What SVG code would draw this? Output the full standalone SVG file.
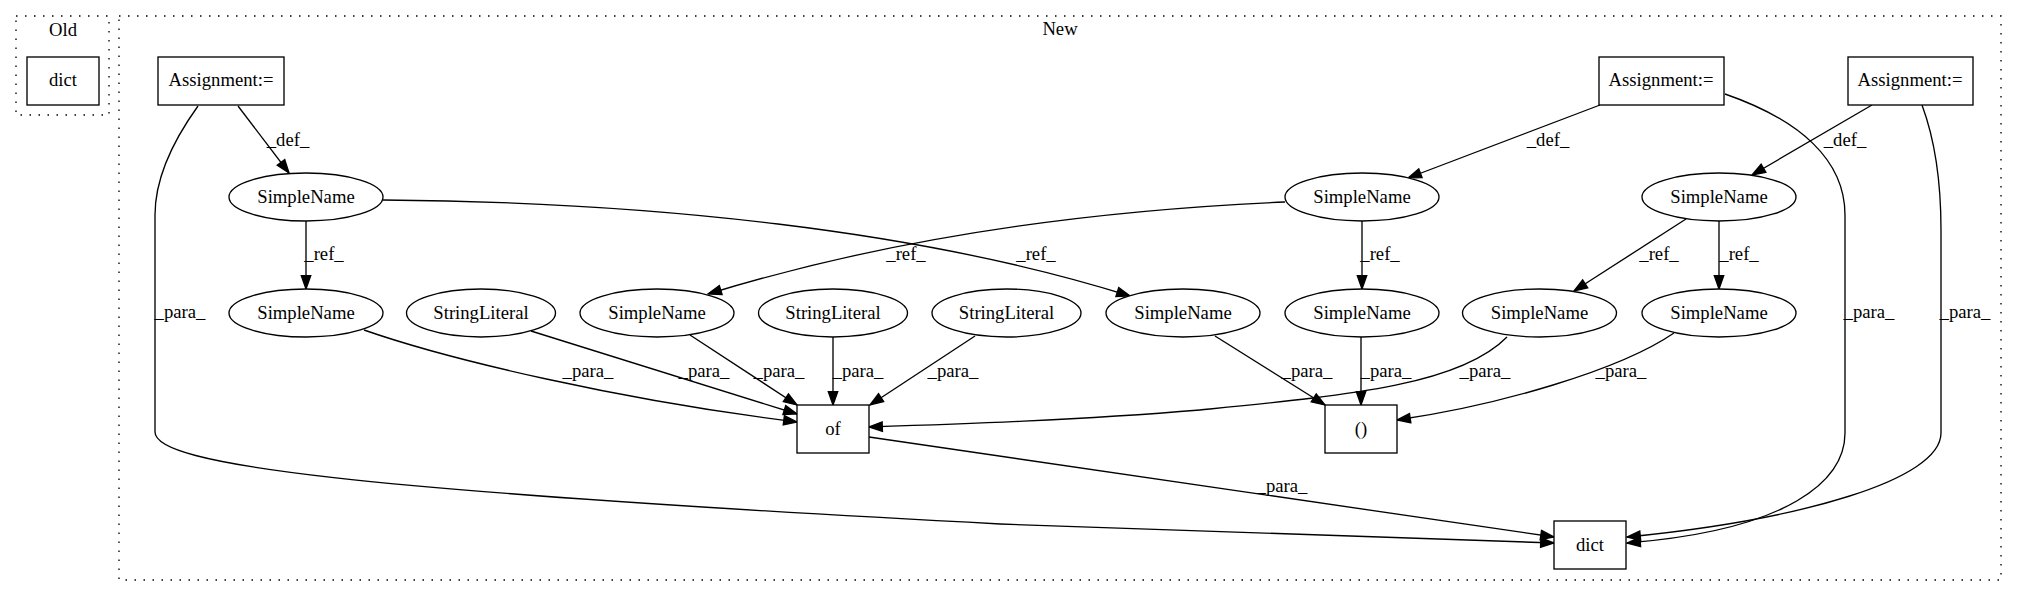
<svg xmlns="http://www.w3.org/2000/svg" width="2017" height="596" viewBox="0 0 2017 596">
<style>
text{font-family:"Liberation Serif","Times New Roman",serif;font-size:18.67px;fill:#000;text-anchor:middle}
.n{fill:#fff;stroke:#000;stroke-width:1.33}
.c{fill:none;stroke:#000;stroke-width:1.33;stroke-dasharray:1.5,7.5}
.e{fill:none;stroke:#000;stroke-width:1.33;marker-end:url(#arr)}
.plain{fill:none;stroke:#000;stroke-width:1.33}
</style>
<defs>
<marker id="arr" markerUnits="userSpaceOnUse" markerWidth="16" markerHeight="12" viewBox="-1 -1 16 12" refX="13.3" refY="5" orient="auto" overflow="visible">
<path d="M0,0.3 L13.3,5 L0,9.7 z" fill="#000" stroke="#000" stroke-width="1.33"/>
</marker>
</defs>
<rect width="2017" height="596" fill="#fff"/>
<g id="cluster_old">
<rect class="c" x="16" y="16" width="93" height="99"/>
<text x="63" y="36">Old</text>
</g>
<g id="cluster_new">
<rect class="c" x="119" y="16" width="1882" height="564"/>
<text x="1060" y="35">New</text>
</g>
<g id="old_dict"><rect class="n" x="27" y="57" width="72" height="48"/><text x="63" y="86">dict</text></g>

<g id="connectors">
<path class="e" d="M238,106 L289,173"/>
<path class="e" d="M198,106 C170,145 155,180 155,215 L155,432 C155,465 350,490 1000,524 C1200,531 1400,538 1554,543"/>
<path class="e" d="M1600,105 L1408,178"/>
<path class="e" d="M1725,94 C1800,120 1845,160 1845,215 L1845,433 C1845,480 1790,530 1627,543"/>
<path class="e" d="M1872,105 L1752,175"/>
<path class="e" d="M1922,105 C1935,140 1941,180 1941,230 L1941,433 C1941,480 1800,520 1627,537"/>
<path class="e" d="M306,221 L306,289"/>
<path class="e" d="M383,200 C650,202 920,230 1130,296"/>
<path class="e" d="M1285,202 C1100,210 900,235 708,294"/>
<path class="e" d="M1362,221 L1362,289"/>
<path class="e" d="M1686,219 L1574,291"/>
<path class="e" d="M1719,221 L1719,289"/>
<path class="e" d="M364,330 C450,360 620,400 797,422"/>
<path class="e" d="M531,331 L797,414"/>
<path class="e" d="M690,335 L797,405"/>
<path class="e" d="M833,337 L833,405"/>
<path class="e" d="M975,336 L870,405"/>
<path class="e" d="M1507,337 C1460,385 1350,395 1200,410 C1080,420 960,424 869,427"/>
<path class="e" d="M1215,336 L1325,405"/>
<path class="e" d="M1361,337 L1361,405"/>
<path class="e" d="M1674,333 C1620,370 1500,405 1397,420"/>
<path class="e" d="M869,437 L1554,537"/>
<text x="288" y="146">_def_</text>
<text x="1548" y="146">_def_</text>
<text x="1845" y="146">_def_</text>
<text x="180" y="318">_para_</text>
<text x="1869" y="318">_para_</text>
<text x="1965" y="318">_para_</text>
<text x="324" y="260">_ref_</text>
<text x="1036" y="260">_ref_</text>
<text x="906" y="260">_ref_</text>
<text x="1380" y="260">_ref_</text>
<text x="1659" y="260">_ref_</text>
<text x="1739" y="260">_ref_</text>
<text x="588" y="377">_para_</text>
<text x="704" y="377">_para_</text>
<text x="779" y="377">_para_</text>
<text x="858" y="377">_para_</text>
<text x="953" y="377">_para_</text>
<text x="1307" y="377">_para_</text>
<text x="1386" y="377">_para_</text>
<text x="1485" y="377">_para_</text>
<text x="1621" y="377">_para_</text>
<text x="1282" y="492">_para_</text>
</g>

<g id="A1"><rect class="n" x="158" y="57" width="126" height="48"/><text x="221" y="86">Assignment:=</text></g>
<g id="A2"><rect class="n" x="1599" y="57" width="125" height="48"/><text x="1661" y="86">Assignment:=</text></g>
<g id="A3"><rect class="n" x="1848" y="57" width="125" height="48"/><text x="1910" y="86">Assignment:=</text></g>

<g id="S1"><ellipse class="n" cx="306" cy="197" rx="77" ry="24"/><text x="306" y="202.5">SimpleName</text></g>
<g id="S2"><ellipse class="n" cx="1362" cy="197" rx="77" ry="24"/><text x="1362" y="202.5">SimpleName</text></g>
<g id="S3"><ellipse class="n" cx="1719" cy="197" rx="77" ry="24"/><text x="1719" y="202.5">SimpleName</text></g>

<g id="S4"><ellipse class="n" cx="306" cy="313" rx="77" ry="24"/><text x="306" y="318.5">SimpleName</text></g>
<g id="L1"><ellipse class="n" cx="481" cy="313" rx="74.5" ry="24"/><text x="481" y="318.5">StringLiteral</text></g>
<g id="S5"><ellipse class="n" cx="657" cy="313" rx="77" ry="24"/><text x="657" y="318.5">SimpleName</text></g>
<g id="L2"><ellipse class="n" cx="833" cy="313" rx="74.5" ry="24"/><text x="833" y="318.5">StringLiteral</text></g>
<g id="L3"><ellipse class="n" cx="1006.5" cy="313" rx="74.5" ry="24"/><text x="1006.5" y="318.5">StringLiteral</text></g>
<g id="S6"><ellipse class="n" cx="1183" cy="313" rx="77" ry="24"/><text x="1183" y="318.5">SimpleName</text></g>
<g id="S7"><ellipse class="n" cx="1362" cy="313" rx="77" ry="24"/><text x="1362" y="318.5">SimpleName</text></g>
<g id="S8"><ellipse class="n" cx="1539.5" cy="313" rx="77" ry="24"/><text x="1539.5" y="318.5">SimpleName</text></g>
<g id="S9"><ellipse class="n" cx="1719" cy="313" rx="77" ry="24"/><text x="1719" y="318.5">SimpleName</text></g>

<g id="of"><rect class="n" x="797" y="405" width="72" height="48"/><text x="833" y="434.5">of</text></g>
<g id="paren"><rect class="n" x="1325" y="405" width="72" height="48"/><text x="1361" y="434.5">()</text></g>
<g id="dict"><rect class="n" x="1554" y="521" width="72" height="48"/><text x="1590" y="550.5">dict</text></g>
</svg>
